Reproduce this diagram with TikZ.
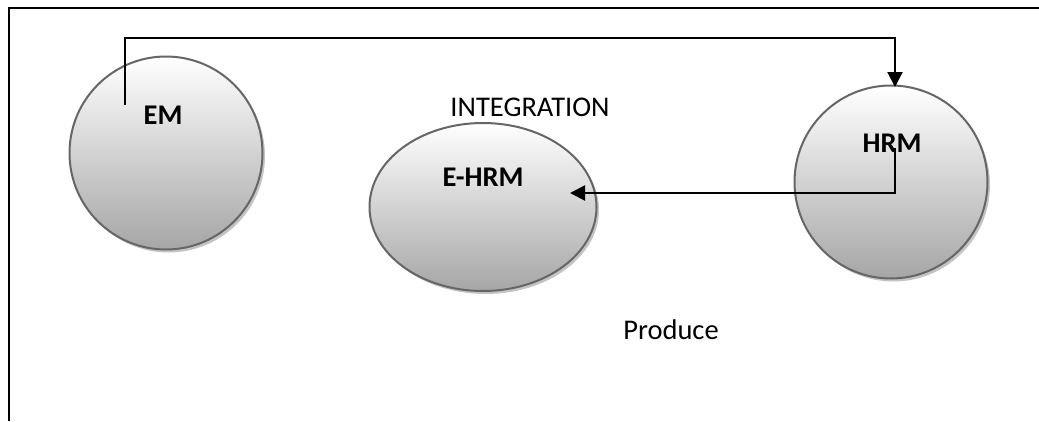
\documentclass[tikz,border=0pt]{standalone}
\usepackage{fontspec}
\setmainfont{Carlito}
\usetikzlibrary{arrows.meta,shapes.geometric}
\definecolor{rim}{HTML}{666666}
\definecolor{shade}{HTML}{C4C4C4}
\begin{document}
\begin{tikzpicture}[x=1pt,y=-1pt,
  ball/.style={draw=rim, line width=2pt, top color=white, bottom color=black!35, inner sep=0pt},
  shadowball/.style={fill=shade, draw=none, inner sep=0pt},
  conn/.style={draw=black, line width=2pt},
  arr/.style={conn, -{Triangle[length=15pt,width=15pt]}},
  lbl/.style={font=\fontsize{28.5}{32}\selectfont\bfseries, inner sep=0pt},
  txt/.style={font=\fontsize{28.5}{32}\selectfont, inner sep=0pt},
  frameline/.style={draw=black, line width=2pt}]
\useasboundingbox (0,0) rectangle (1039,421);
% frame
\coordinate (fbl) at (9,421);
\coordinate (ftl) at (9,8);
\coordinate (ftr) at (1039,8);
\draw[frameline] (fbl) -- (ftl) -- (ftr);
% shadows
\node[shadowball, circle, minimum size=193pt] (emsh) at (168.5,156) {};
\node[shadowball, circle, minimum size=193pt] (hrmsh) at (893.5,185) {};
\node[shadowball, ellipse, minimum width=227pt, minimum height=168pt] (ehrmsh) at (485.5,210) {};
% shapes
\node[ball, circle, minimum size=193pt] (em) at (166,153) {};
\node[ball, circle, minimum size=193pt] (hrm) at (891,182) {};
\node[ball, ellipse, minimum width=227pt, minimum height=168pt] (ehrm) at (483,207) {};
% labels
\node[lbl] (emt) at (163,115) {EM};
\node[lbl] (hrmt) at (892,143) {HRM};
\node[lbl] (ehrmt) at (483,177) {E-HRM};
\node[txt] (integ) at (530,107) {INTEGRATION};
\node[txt] (prod) at (671,330) {Produce};
% connectors
\coordinate (s1) at (125,105);
\coordinate (topy) at (0,38);
\coordinate (t1) at (895,87);
\draw[arr] (s1) -- (s1 |- topy) -| (t1);
\coordinate (s2) at (895,148);
\coordinate (t2) at (570,193);
\draw[arr] (s2) |- (t2);
\end{tikzpicture}
\end{document}
